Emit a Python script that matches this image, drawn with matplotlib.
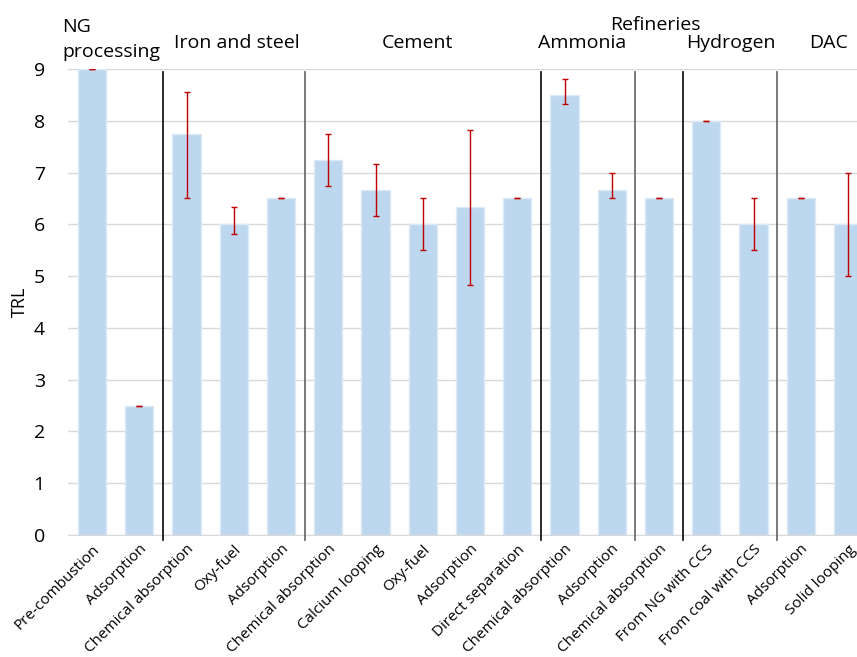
import matplotlib
matplotlib.use("Agg")
import matplotlib.pyplot as plt
import numpy as np

categories = ["Pre-combustion", "Adsorption", "Chemical absorption", "Oxy-fuel", "Adsorption",
              "Chemical absorption", "Calcium looping", "Oxy-fuel", "Adsorption", "Direct separation",
              "Chemical absorption", "Adsorption", "Chemical absorption", "From NG with CCS",
              "From coal with CCS", "Adsorption", "Solid looping"]
values = [9, 2.5, 7.75, 6, 6.5, 7.25, 6.67, 6, 6.33, 6.5, 8.5, 6.67, 6.5, 8, 6, 6.5, 6]
err_low = [0, 0, 1.25, 0.18, 0, 0.5, 0.5, 0.5, 1.5, 0, 0.17, 0.17, 0, 0, 0.5, 0, 1]
err_high = [0, 0, 0.8, 0.33, 0, 0.5, 0.5, 0.5, 1.5, 0, 0.31, 0.33, 0, 0, 0.5, 0, 1]
yticks = [0, 1, 2, 3, 4, 5, 6, 7, 8, 9]

# separators after bar index (between i and i+1), and colour
sep_after = [1, 4, 9, 11, 12, 14]
sep_colors = ["#1a1a1a", "#6e6e6e", "#1a1a1a", "#6e6e6e", "#1a1a1a", "#6e6e6e"]

group_labels = ["Iron and steel", "Cement", "Ammonia", "Refineries", "Hydrogen", "DAC"]

plt.rcParams['font.family'] = ['Open Sans', 'DejaVu Sans']

W, H = 857, 657
fig = plt.figure(figsize=(W / 100, H / 100), dpi=100)
sp = 47.25
left_px = 92 - 0.5 * sp
right_px = 92 + 16.5 * sp
ax = fig.add_axes([left_px / W, (H - 535) / H, (right_px - left_px) / W, (535 - 69) / H])

x = np.arange(len(values))
ax.bar(x, values, width=0.6, color="#BDD7EE", edgecolor="#DCE9F6", linewidth=1, zorder=2)
ax.errorbar(x, values, yerr=[err_low, err_high], fmt="none", ecolor="#C00000",
            elinewidth=1, capsize=2.5, capthick=1, zorder=3)

ax.set_xlim(-0.5, 16.5)
ax.set_ylim(0, 9)
ax.set_yticks(yticks)
ax.set_yticklabels([str(t) for t in yticks], fontsize=14)
ax.yaxis.grid(True, color="#D9D9D9", linewidth=1, zorder=0)
ax.set_axisbelow(True)
ax.tick_params(axis="y", length=0, pad=17)
ax.tick_params(axis="x", length=0, pad=5)
for s in ["top", "right", "left"]:
    ax.spines[s].set_visible(False)
ax.spines["bottom"].set_color("#D9D9D9")

ax.set_xticks(x)
ax.set_xticklabels(categories, rotation=45, ha="right", rotation_mode="anchor", fontsize=11)

for i, c in zip(sep_after, sep_colors):
    ax.plot([i + 0.5, i + 0.5], [-0.1, 8.94], color=c, linewidth=1.3, clip_on=False, zorder=4)

def ftext(px, py, s, size=14, **kw):
    fig.text(px / W, 1 - py / H, s, fontsize=size, va="center", **kw)

ftext(20, 302, "TRL", size=13, ha="center", rotation=90)
ftext(62, 27, "NG", ha="left")
ftext(62, 52, "processing", ha="left")
group_pos = [(237, 43), (417, 43), (582, 43), (655, 25), (731, 43), (829, 43)]
for lab, (px, py) in zip(group_labels, group_pos):
    ftext(px, py, lab, ha="center")

fig.savefig("out.png", dpi=100)
